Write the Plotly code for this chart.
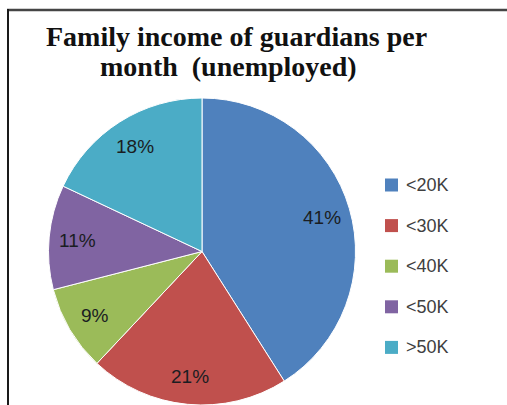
import math
import plotly.graph_objects as go

categories = ["<20K", "<30K", "<40K", "<50K", ">50K"]
values = [41, 21, 9, 11, 18]
colors = ["#4F81BD", "#C0504D", "#9BBB59", "#8064A2", "#4BACC6"]
title_lines = ["Family income of guardians per", "month  (unemployed)"]

W, H = 507, 405
cx, cy, r = 202, 252, 154

fig = go.Figure(go.Pie(
    labels=categories, values=values, sort=False, direction="clockwise", rotation=0,
    marker=dict(colors=colors, line=dict(color="white", width=1)),
    textinfo="none", hoverinfo="label+percent", showlegend=False,
    domain=dict(x=[(cx - r) / W, (cx + r) / W], y=[0, (H - cy + r) / H]),
))

def px(x):
    return x / W

def py(y):
    return (H - y) / H

ann = []
# slice labels positioned from cumulative angles of the data
total = sum(values)
cum = 0
for v in values:
    mid = (cum + v / 2) / total * 2 * math.pi
    cum += v
    f = 0.81
    x = cx + r * f * math.sin(mid)
    y = cy - r * f * math.cos(mid)
    ann.append(dict(x=px(x), y=py(y), xref="paper", yref="paper", showarrow=False,
                    text=f"{round(v / total * 100)}%", xanchor="center", yanchor="middle",
                    font=dict(family="Liberation Sans", size=19, color="#1a1d22")))

# title lines
ann.append(dict(x=px(236), y=py(37), xref="paper", yref="paper", showarrow=False,
                text=f"<b>{title_lines[0]}</b>", xanchor="center", yanchor="middle",
                font=dict(family="Liberation Serif", size=28, color="#111")))
ann.append(dict(x=px(228), y=py(66), xref="paper", yref="paper", showarrow=False,
                text=f"<b>{title_lines[1]}</b>", xanchor="center", yanchor="middle",
                font=dict(family="Liberation Serif", size=28, color="#111")))

shapes = []
# manual legend
for i, (c, col) in enumerate(zip(categories, colors)):
    yc = 185 + i * 40.6
    shapes.append(dict(type="rect", xref="paper", yref="paper",
                       x0=px(385), x1=px(398), y0=py(yc + 6.5), y1=py(yc - 6.5),
                       fillcolor=col, line=dict(width=0)))
    ann.append(dict(x=px(404), y=py(yc), xref="paper", yref="paper", showarrow=False,
                    text=c, xanchor="left", yanchor="middle",
                    font=dict(family="Liberation Sans", size=18, color="#404040")))

# frame lines
shapes.append(dict(type="line", xref="paper", yref="paper", x0=px(7), x1=1, y0=py(10), y1=py(10),
                   line=dict(color="#454545", width=2.5)))
shapes.append(dict(type="line", xref="paper", yref="paper", x0=px(8), x1=px(8), y0=py(9), y1=0,
                   line=dict(color="#1a1a1a", width=2)))

fig.update_layout(width=W, height=H, margin=dict(l=0, r=0, t=0, b=0),
                  paper_bgcolor="white", plot_bgcolor="white",
                  annotations=ann, shapes=shapes)
fig.write_html("out.html", config={"displayModeBar": False})

with open("out.html", encoding="utf-8") as fh:
    html = fh.read()
html = html.replace("<head>", "<head><style>html,body{margin:0;padding:0;overflow:hidden}</style>", 1)
with open("out.html", "w", encoding="utf-8") as fh:
    fh.write(html)
